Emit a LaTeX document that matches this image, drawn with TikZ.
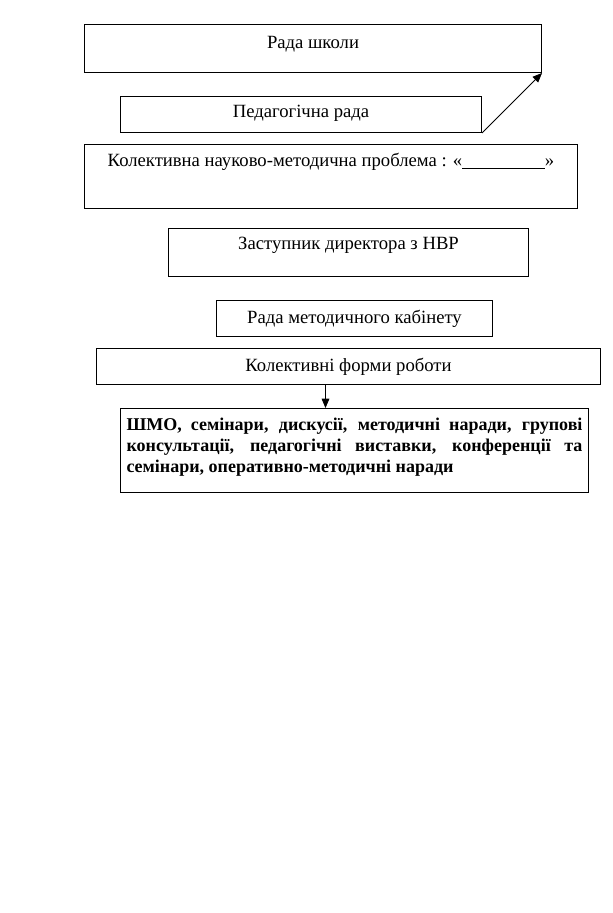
\documentclass[tikz,border=0pt]{standalone}
\usepackage{fontspec}
\setmainfont{Liberation Serif}
\usetikzlibrary{arrows,positioning}

\begin{document}
\begin{tikzpicture}[x=0.75pt,y=-0.75pt,
    box/.style={draw, line width=0.75pt, anchor=north west, inner sep=0pt,
      font=\fontsize{14pt}{16.8pt}\selectfont},
    link/.style={-triangle 45, line width=0.6pt}]
    \useasboundingbox (0,0) rectangle (613,913);

    % Boxes
    \node[box, minimum width=342.75pt, text height=18pt, text depth=18pt] (rada) at (84,24) {Рада школи};
    \node[box, minimum width=270.75pt, text height=15.5pt, text depth=11.5pt] (pedrada) at (120,96) {Педагогічна рада};
    \node[box, minimum width=369.75pt, text height=16.5pt, text depth=31.5pt] (problem) at (84,144)
      {Колективна науково-методична проблема : «\underline{\hspace{62pt}}»};
    \node[box, minimum width=270pt, text height=15.75pt, text depth=20.25pt] (zastup) at (168,228) {Заступник директора з НВР};
    \node[box, minimum width=207pt, text height=17.25pt, text depth=9.75pt] (kabinet) at (216,300) {Рада методичного кабінету};
    \node[box, minimum width=378pt, text height=17.25pt, text depth=9.75pt] (forms) at (96,348) {Колективні форми роботи};
    \node[box, text width=342pt, inner xsep=4.5pt, align=justify,
      font=\fontsize{13.5pt}{15.6pt}\selectfont\bfseries] (shmo) at (120,408)
      {\hyphenpenalty=10000\rule{0pt}{16.5pt}ШМО, семінари, дискусії, методичні наради, групові\linebreak
       консультації, педагогічні виставки, конференції та\linebreak
       семінари, оперативно-методичні наради\rule[-15.5pt]{0pt}{15.5pt}};

    % Arrows
    \draw[link] (pedrada.south east) -- (rada.south east);
    \coordinate (fork) at ([xshift=-17.25pt]forms.south);
    \draw[link] (fork) -- (fork |- shmo.north);
\end{tikzpicture}
\end{document}
